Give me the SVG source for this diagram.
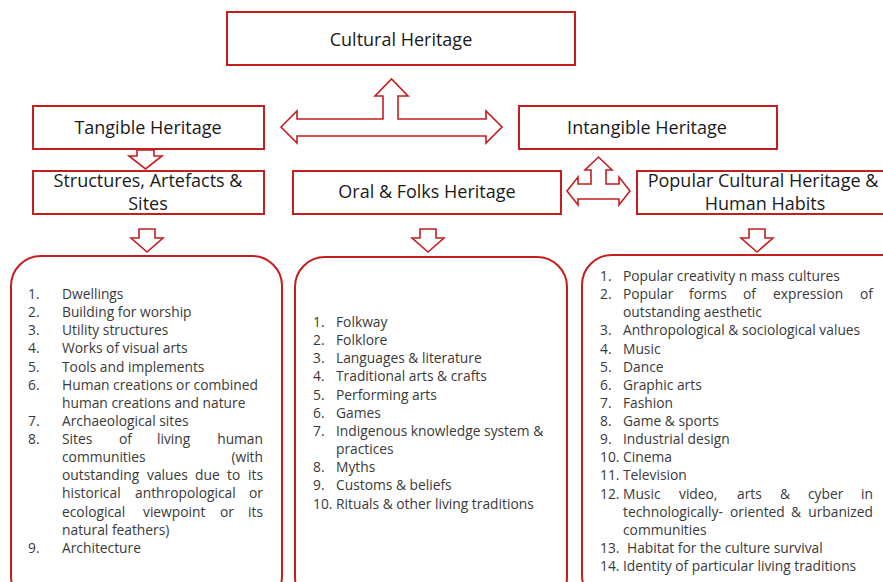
<svg xmlns="http://www.w3.org/2000/svg" width="883" height="582" viewBox="0 0 883 582">
  <style>
    .box { fill: #ffffff; stroke: #C41E1E; stroke-width: 2; }
    .rbox { fill: #ffffff; stroke: #C41E1E; stroke-width: 2; }
    .arrow { fill: #ffffff; stroke: #C41E1E; stroke-width: 1.6; stroke-linejoin: miter; }
    .h { font-family: "Open Sans", "Liberation Sans", sans-serif; font-size: 18px; fill: #1a1a1a; text-anchor: middle; }
    .l { font-family: "Open Sans", "Liberation Sans", sans-serif; font-size: 13.8px; fill: #3a3a3a; }
    .e { text-anchor: end; }
  </style>
  <rect x="0" y="0" width="883" height="582" fill="#ffffff"/>

  <g id="connectors">
    <path class="arrow" d="M281,127 L297,111 V119 H383 V96 H375 L391.5,79 L408,96 H398 V119 H486 V111 L502,127 L486,143 V136 H297 V143 Z"/>
    <path class="arrow" d="M567,191 L578,177 V184 H591 V170 H585 L598.5,157 L612,170 H606 V184 H619 V177 L630,191 L619,205 V199 H578 V205 Z"/>
    <path class="arrow" d="M137,150 H154 V156 H162 L145.5,169 L129,156 H137 Z"/>
    <path class="arrow" d="M139,229 H155 V238 H163 L147,252 L131,238 H139 Z"/>
    <path class="arrow" d="M420,229 H436 V238 H444 L428,252 L412,238 H420 Z"/>
    <path class="arrow" d="M749,229 H765 V238 H773 L757,252 L741,238 H749 Z"/>
  </g>

  <g id="cultural">
    <rect class="box" x="227" y="12" width="348" height="53"/>
    <text class="h" x="401" y="46">Cultural Heritage</text>
  </g>
  <g id="tangible">
    <rect class="box" x="33" y="106" width="231" height="43"/>
    <text class="h" x="148" y="134">Tangible Heritage</text>
  </g>
  <g id="intangible">
    <rect class="box" x="519" y="106" width="258" height="43"/>
    <text class="h" x="647" y="134">Intangible Heritage</text>
  </g>
  <g id="structures">
    <rect class="box" x="33" y="171" width="231" height="43"/>
    <text class="h" x="148" y="187">Structures, Artefacts &amp;</text>
    <text class="h" x="148" y="210">Sites</text>
  </g>
  <g id="oral">
    <rect class="box" x="293" y="171" width="268" height="43"/>
    <text class="h" x="427" y="198">Oral &amp; Folks Heritage</text>
  </g>
  <g id="popular">
    <rect class="box" x="637" y="171" width="260" height="43"/>
    <text class="h" x="763" y="187">Popular Cultural Heritage &amp;</text>
    <text class="h" x="765" y="210">Human Habits</text>
  </g>

  <g id="list-structures">
    <rect class="rbox" x="11" y="256" width="271" height="350" rx="30" ry="30"/>
    <text class="l" x="28" y="299">1.</text><text class="l" x="62" y="299">Dwellings</text>
    <text class="l" x="28" y="317">2.</text><text class="l" x="62" y="317">Building for worship</text>
    <text class="l" x="28" y="335">3.</text><text class="l" x="62" y="335">Utility structures</text>
    <text class="l" x="28" y="353">4.</text><text class="l" x="62" y="353">Works of visual arts</text>
    <text class="l" x="28" y="372">5.</text><text class="l" x="62" y="372">Tools and implements</text>
    <text class="l" x="28" y="390">6.</text><text class="l" x="62" y="390">Human creations or combined</text>
    <text class="l" x="62" y="408">human creations and nature</text>
    <text class="l" x="28" y="426">7.</text><text class="l" x="62" y="426">Archaeological sites</text>
    <text class="l" x="28" y="444">8.</text>
    <text class="l" x="62" y="444">Sites</text><text class="l" x="119" y="444">of</text><text class="l" x="157" y="444">living</text><text class="l e" x="263" y="444">human</text>
    <text class="l" x="62" y="462">communities</text><text class="l e" x="263" y="462">(with</text>
    <text class="l" x="62" y="480">outstanding</text><text class="l" x="147" y="480">values</text><text class="l" x="195" y="480">due</text><text class="l" x="227" y="480">to</text><text class="l e" x="263" y="480">its</text>
    <text class="l" x="62" y="498">historical</text><text class="l" x="135" y="498">anthropological</text><text class="l e" x="263" y="498">or</text>
    <text class="l" x="62" y="517">ecological</text><text class="l" x="143" y="517">viewpoint</text><text class="l" x="220" y="517">or</text><text class="l e" x="263" y="517">its</text>
    <text class="l" x="62" y="535">natural feathers)</text>
    <text class="l" x="28" y="553">9.</text><text class="l" x="62" y="553">Architecture</text>
  </g>

  <g id="list-oral">
    <rect class="rbox" x="295" y="257" width="272" height="350" rx="30" ry="30"/>
    <text class="l" x="313" y="327">1.</text><text class="l" x="336" y="327">Folkway</text>
    <text class="l" x="313" y="345">2.</text><text class="l" x="336" y="345">Folklore</text>
    <text class="l" x="313" y="363">3.</text><text class="l" x="336" y="363">Languages &amp; literature</text>
    <text class="l" x="313" y="381">4.</text><text class="l" x="336" y="381">Traditional arts &amp; crafts</text>
    <text class="l" x="313" y="400">5.</text><text class="l" x="336" y="400">Performing arts</text>
    <text class="l" x="313" y="418">6.</text><text class="l" x="336" y="418">Games</text>
    <text class="l" x="313" y="436">7.</text><text class="l" x="336" y="436">Indigenous knowledge system &amp;</text>
    <text class="l" x="336" y="454">practices</text>
    <text class="l" x="313" y="472">8.</text><text class="l" x="336" y="472">Myths</text>
    <text class="l" x="313" y="490">9.</text><text class="l" x="336" y="490">Customs &amp; beliefs</text>
    <text class="l" x="313" y="509">10.</text><text class="l" x="336" y="509">Rituals &amp; other living traditions</text>
  </g>

  <g id="list-popular">
    <rect class="rbox" x="582" y="255" width="330" height="350" rx="30" ry="30"/>
    <text class="l" x="600" y="281">1.</text><text class="l" x="623" y="281">Popular creativity n mass cultures</text>
    <text class="l" x="600" y="299">2.</text>
    <text class="l" x="623" y="299">Popular</text><text class="l" x="689" y="299">forms</text><text class="l" x="743" y="299">of</text><text class="l" x="773" y="299">expression</text><text class="l e" x="873" y="299">of</text>
    <text class="l" x="623" y="317">outstanding aesthetic</text>
    <text class="l" x="600" y="335">3.</text><text class="l" x="623" y="335">Anthropological &amp; sociological values</text>
    <text class="l" x="600" y="354">4.</text><text class="l" x="623" y="354">Music</text>
    <text class="l" x="600" y="372">5.</text><text class="l" x="623" y="372">Dance</text>
    <text class="l" x="600" y="390">6.</text><text class="l" x="623" y="390">Graphic arts</text>
    <text class="l" x="600" y="408">7.</text><text class="l" x="623" y="408">Fashion</text>
    <text class="l" x="600" y="426">8.</text><text class="l" x="623" y="426">Game &amp; sports</text>
    <text class="l" x="600" y="444">9.</text><text class="l" x="623" y="444">Industrial design</text>
    <text class="l" x="600" y="462">10.</text><text class="l" x="623" y="462">Cinema</text>
    <text class="l" x="600" y="480">11.</text><text class="l" x="623" y="480">Television</text>
    <text class="l" x="600" y="499">12.</text>
    <text class="l" x="623" y="499">Music</text><text class="l" x="679" y="499">video,</text><text class="l" x="737" y="499">arts</text><text class="l" x="780" y="499">&amp;</text><text class="l" x="808" y="499">cyber</text><text class="l e" x="873" y="499">in</text>
    <text class="l" x="623" y="517">technologically-</text><text class="l" x="730" y="517">oriented</text><text class="l" x="791" y="517">&amp;</text><text class="l e" x="873" y="517">urbanized</text>
    <text class="l" x="623" y="535">communities</text>
    <text class="l" x="600" y="553">13.</text><text class="l" x="627" y="553">Habitat for the culture survival</text>
    <text class="l" x="600" y="571">14.</text><text class="l" x="623" y="571">Identity of particular living traditions</text>
  </g>
</svg>
